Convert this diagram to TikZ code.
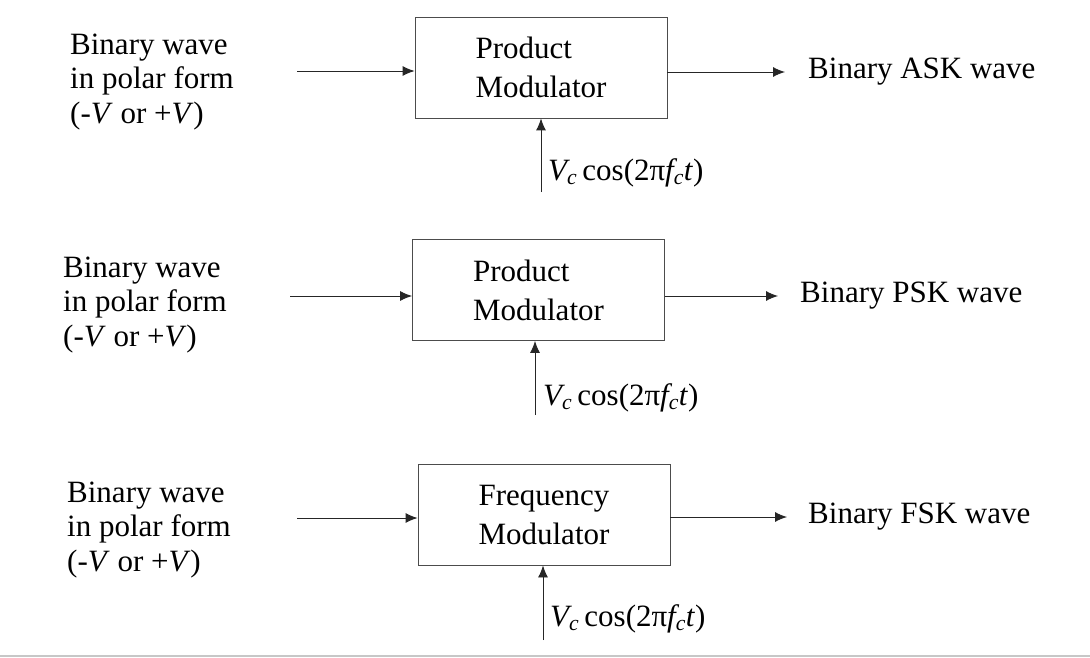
\documentclass[tikz,border=0pt]{standalone}
\usepackage{fontspec}
\setmainfont{Liberation Serif}
\usetikzlibrary{arrows.meta}

\tikzset{
	modbox/.style={draw=black!70, line width=0.9pt, minimum width=252pt, minimum height=101pt, inner sep=0pt, align=left, font=\fontsize{31}{39}\selectfont},
	sig/.style={-{Latex[length=12pt,width=10pt]}, line width=0.9pt, color=black!85},
	lbl/.style={anchor=west, inner sep=0pt, align=left, font=\fontsize{31}{34.5}\selectfont}
}
\newcommand{\carrier}{\textit{V\textsubscript{c}}\,cos(2π\textit{f\textsubscript{c}t})}

\begin{document}
\begin{tikzpicture}[x=1pt, y=-1pt]
			%%%%% START %%%%%
			
			\useasboundingbox (0, 0) rectangle (1090, 658);
			
			% ASK
			\node[modbox] (mod1) at (541, 67.5) {Product\\Modulator};
			\node[lbl] (in1) at (70, 82) {Binary wave\\in polar form\\(-\textit{V} or +\textit{V})};
			\node[lbl] (out1) at (808, 72) {Binary ASK wave};
			\node[lbl] (car1) at (548, 173) {\carrier};
			\coordinate (src1) at (297, 71);
			\coordinate (osc1) at (541, 192);
			\draw[sig] (src1) -- (src1 -| mod1.west);
			\draw[sig] (mod1.east |- out1) -- ([xshift=-23pt]out1.west);
			\draw[sig] (osc1) -- (mod1.south);
			
			% PSK
			\node[modbox] (mod2) at (538.5, 290) {Product\\Modulator};
			\node[lbl] (in2) at (63, 305) {Binary wave\\in polar form\\(-\textit{V} or +\textit{V})};
			\node[lbl] (out2) at (800, 296) {Binary PSK wave};
			\node[lbl] (car2) at (543, 398) {\carrier};
			\coordinate (src2) at (290, 296);
			\coordinate (osc2) at (535, 415);
			\draw[sig] (src2) -- (src2 -| mod2.west);
			\draw[sig] (mod2.east |- out2) -- ([xshift=-22pt]out2.west);
			\draw[sig] (osc2) -- (osc2 |- mod2.south);
			
			% FSK
			\node[modbox] (mod3) at (544, 514.5) {Frequency\\Modulator};
			\node[lbl] (in3) at (67, 530) {Binary wave\\in polar form\\(-\textit{V} or +\textit{V})};
			\node[lbl] (out3) at (808, 517) {Binary FSK wave};
			\node[lbl] (car3) at (550, 619) {\carrier};
			\coordinate (src3) at (297, 518);
			\coordinate (osc3) at (543, 640);
			\draw[sig] (src3) -- (src3 -| mod3.west);
			\draw[sig] (mod3.east |- out3) -- ([xshift=-21pt]out3.west);
			\draw[sig] (osc3) -- (osc3 |- mod3.south);
			
			\draw[line width=2pt, color=black!22] (0, 656) -- (1090, 656);
			
			%%%%% END %%%%%
\end{tikzpicture}
\end{document}
